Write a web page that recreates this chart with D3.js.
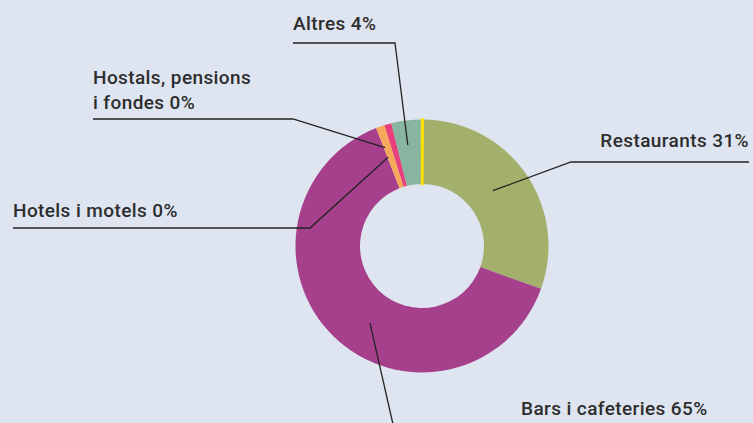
<!DOCTYPE html>
<html>
<head>
<meta charset="utf-8">
<script src="https://cdn.jsdelivr.net/npm/d3@7"></script>
<style>
  body { margin: 0; background: #dee5f0; }
  svg { display: block; }
  .lbl { font-family: Roboto, sans-serif; font-weight: 500; font-size: 19px; letter-spacing: 0.4px; fill: #2d2d2d; }
  .leader { fill: none; stroke: #222; stroke-width: 1.3; }
</style>
</head>
<body>
<script>
var width = 753,
    height = 423;

// share of establishments (%)
var categories = ["", "Restaurants", "Bars i cafeteries", "Hotels i motels", "Hostals, pensions i fondes", "Altres"];
var values = [0.1, 30.4, 63.6, 1.1, 0.9, 3.9];
var labels = [null, ["Restaurants 31%"], ["Bars i cafeteries 65%"], ["Hotels i motels 0%"], ["Hostals, pensions", "i fondes 0%"], ["Altres 4%"]];
var colors = ["#ffe100", "#a2b06c", "#a6408c", "#f6a85a", "#e7417c", "#88b5a0"];

var cx = 422, cy = 246, outerR = 126.5, innerR = 62;

// leader-line layout: end point on the ring (angle in degrees, radius), elbow, text anchor
var layout = {
    "Restaurants": { end: [52, 90], elbow: [571, 162], stop: [749, 162], text: [749, 147], anchor: "end" },
    "Bars i cafeteries": { end: [214, 93], elbow: [395, 433], stop: [395, 433], text: [521, 415], anchor: "start" },
    "Hotels i motels": { end: [339.1, 95], elbow: [310, 228], stop: [13, 228], text: [13, 217], anchor: "start" },
    "Hostals, pensions i fondes": { end: [339.4, 105], elbow: [293, 119], stop: [93, 119], text: [93, 84], anchor: "start" },
    "Altres": { end: [352, 102], elbow: [395, 43], stop: [293, 43], text: [293, 30], anchor: "start" }
};

var svg = d3.select("body").append("svg")
    .attr("width", width)
    .attr("height", height);

var pie = d3.pie()
    .sort(null)
    .value(function(d) { return d.value; });

var arc = d3.arc()
    .innerRadius(innerR)
    .outerRadius(outerR);

var data = categories.map(function(c, i) {
    return { name: c, value: values[i], color: colors[i], label: labels[i] };
});

var g = svg.append("g")
    .attr("transform", "translate(" + cx + "," + cy + ")");

var slices = g.selectAll("path")
    .data(pie(data))
    .enter().append("path")
    .attr("d", arc)
    .attr("fill", function(d) { return d.data.color; })
    .attr("stroke", function(d) { return d.data.name === "" ? d.data.color : "none"; })
    .attr("stroke-width", 2.4);

// the thin yellow divider sits on top of its neighbours
slices.filter(function(d) { return d.data.name === ""; }).raise();

var labelled = data.filter(function(d) { return d.label; });

function ringPoint(a, r) {
    var rad = a * Math.PI / 180;
    return [cx + r * Math.sin(rad), cy - r * Math.cos(rad)];
}

svg.selectAll(".leader")
    .data(labelled)
    .enter().append("path")
    .attr("class", "leader")
    .attr("d", function(d) {
        var l = layout[d.name];
        return d3.line()([ringPoint(l.end[0], l.end[1]), l.elbow, l.stop]);
    });

var texts = svg.selectAll(".lbl")
    .data(labelled)
    .enter().append("text")
    .attr("class", "lbl")
    .attr("text-anchor", function(d) { return layout[d.name].anchor; })
    .attr("x", function(d) { return layout[d.name].text[0]; })
    .attr("y", function(d) { return layout[d.name].text[1]; });

texts.selectAll("tspan")
    .data(function(d) { return d.label.map(function(t) { return { t: t, x: layout[d.name].text[0] }; }); })
    .enter().append("tspan")
    .attr("x", function(d) { return d.x; })
    .attr("dy", function(d, i) { return i ? 25 : 0; })
    .text(function(d) { return d.t; });
</script>
</body>
</html>
